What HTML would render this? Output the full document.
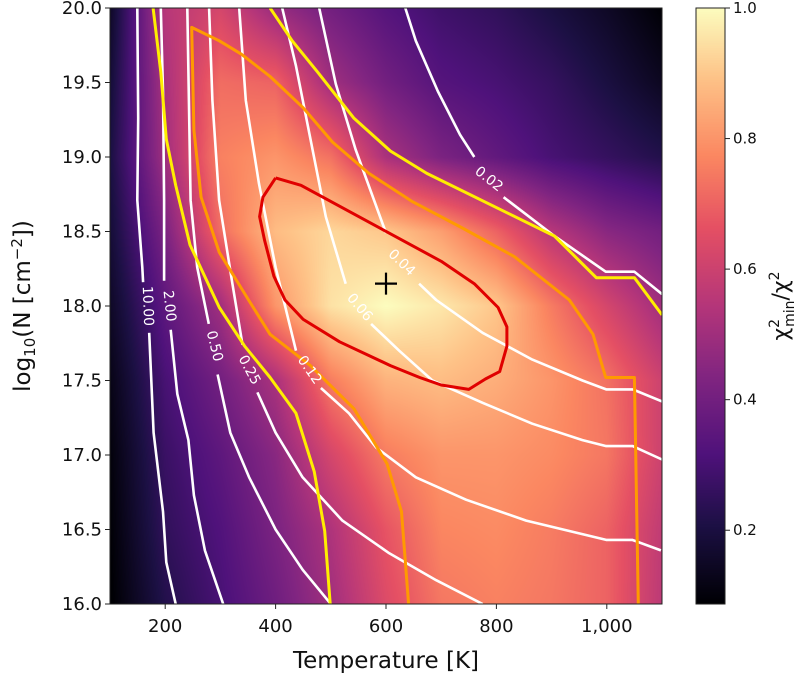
<!DOCTYPE html>
<html><head><meta charset="utf-8">
<style>
body{margin:0;background:#fff;width:798px;height:684px;overflow:hidden;font-family:"DejaVu Sans","Liberation Sans",sans-serif;}
#wrap{position:relative;width:798px;height:684px;}
canvas{position:absolute;}
svg{position:absolute;left:0;top:0;}
</style></head>
<body>
<div id="wrap">
<canvas id="heat" width="552" height="596" style="left:110px;top:8px"></canvas>
<canvas id="cbar" width="29" height="596" style="left:696px;top:8px"></canvas>
<svg id="svg" width="798" height="684"></svg>
</div>
<script>
// ---- data ----
const tempGrid=[100,200,300,400,500,600,700,800,900,1000,1100];
const logNGrid=[16,16.5,17,17.5,18,18.5,19,19.5,20];
const row160=[0.08,0.22,0.30,0.39,0.50,0.64,0.74,0.76,0.74,0.70,0.56];
const row165=[0.09,0.25,0.32,0.42,0.53,0.67,0.77,0.78,0.75,0.70,0.57];
const row170=[0.10,0.27,0.35,0.45,0.62,0.75,0.80,0.80,0.78,0.74,0.60];
const row175=[0.12,0.30,0.40,0.52,0.75,0.86,0.88,0.85,0.80,0.73,0.60];
const row180=[0.15,0.35,0.50,0.80,0.95,1.00,0.96,0.90,0.75,0.62,0.50];
const row185=[0.18,0.42,0.72,0.88,0.93,0.90,0.82,0.70,0.55,0.45,0.40];
const row190=[0.20,0.50,0.76,0.80,0.73,0.52,0.42,0.36,0.30,0.26,0.22];
const row195=[0.18,0.52,0.72,0.70,0.50,0.40,0.33,0.30,0.26,0.20,0.14];
const row200=[0.15,0.55,0.62,0.48,0.40,0.33,0.28,0.25,0.20,0.15,0.09];
const ratioRows=[row160,row165,row170,row175,row180,row185,row190,row195,row200];
const xTicks=[200,400,600,800,1000];
const xTickLabels=["200","400","600","800","1,000"];
const yTicks=[16,16.5,17,17.5,18,18.5,19,19.5,20];
const yTickLabels=["16.0","16.5","17.0","17.5","18.0","18.5","19.0","19.5","20.0"];
const cbTicks=[0.2,0.4,0.6,0.8,1.0];
const cbTickLabels=["0.2","0.4","0.6","0.8","1.0"];
const bestFit=[600,18.15];
const redLine=[[400,18.86],[446,18.81],[700,18.30],[760,18.15],[803,17.99],[819,17.86],[819,17.73],[806,17.56],[780,17.51],[750,17.44],[700,17.47],[661,17.52],[608,17.60],[516,17.76],[450,17.91],[417,18.04],[397,18.20],[380,18.44],[371,18.60],[377,18.73],[400,18.86]];
const orangeLine=[[641,16.0],[628,16.62],[602,16.94],[542,17.31],[463,17.60],[390,17.81],[351,18.04],[298,18.36],[265,18.73],[252,19.18],[248,19.87],[298,19.78],[338,19.69],[390,19.54],[450,19.33],[503,19.10],[569,18.89],[648,18.70],[740,18.52],[833,18.33],[932,18.04],[975,17.81],[998,17.52],[1050,17.52],[1057,16.0]];
const yellowLeft=[[178,20.0],[192,19.57],[202,19.12],[219,18.81],[245,18.41],[298,17.99],[344,17.73],[390,17.52],[437,17.28],[470,16.89],[489,16.49],[499,16.0]];
const yellowRight=[[390,20.0],[430,19.78],[476,19.57],[542,19.26],[608,19.04],[674,18.89],[806,18.65],[905,18.47],[981,18.19],[1050,18.19],[1100,17.94]];
const w1000a=[[149.5,20],[151,19.26],[149.5,18.71],[158.6,18.26],[160,18.16]];
const w1000b=[[171,17.82],[179,17.15],[196,16.62],[202,16.28],[219,16.0]];
const w200a=[[192,20],[196,19.44],[198,18.71],[198,18.17]];
const w200b=[[210,17.84],[222,17.41],[242,17.10],[252,16.73],[272,16.36],[305,16.0]];
const w050a=[[240,20],[243,19.38],[246,18.71],[258,18.26],[279,17.88]];
const w050b=[[295,17.54],[318,17.15],[352,16.85],[400,16.50],[449,16.23],[500,16.0]];
const w025a=[[279.5,20],[285.5,19.38],[297.6,18.71],[321.8,18.15],[340,17.74]];
const w025b=[[367,17.42],[400,17.15],[449,16.85],[521,16.56],[606,16.34],[691,16.16],[775,16.0]];
const w012a=[[334,20],[346,19.38],[370,18.82],[400,18.26],[437,17.70]];
const w012b=[[482,17.45],[533,17.28],[582,17.05],[654,16.85],[745,16.70],[854,16.56],[999,16.43],[1046,16.43],[1098,16.36]];
const w006a=[[412,20],[437,19.61],[461,19.16],[491,18.60],[527,18.15]];
const w006b=[[573,17.88],[624,17.70],[684,17.50],[775,17.35],[865,17.21],[956,17.10],[999,17.06],[1047,17.06],[1100,16.97]];
const w004a=[[479,20],[509,19.49],[545,19.05],[600,18.49]];
const w004b=[[660,18.15],[691,18.04],[775,17.82],[865,17.64],[956,17.50],[999,17.44],[1047,17.44],[1100,17.36]];
const w002a=[[635,20],[654,19.78],[694,19.44],[734,19.15],[760,19.0]];
const w002b=[[813,18.73],[905,18.47],[998,18.23],[1050,18.23],[1100,18.08]];
const whiteLabels=[["10.00",168,18.0,88],["2.00",207,18.0,84],["0.50",289,17.73,76],["0.25",352,17.57,62],["0.12",461,17.57,55],["0.06",552,17.99,50],["0.04",628,18.29,44],["0.02",786,18.85,38]];

// ---- scales ----
const PL=110,PR=662,PT=8,PB=604;
const xS=t=>PL+(t-100)/1000*(PR-PL);
const yS=n=>PB-(n-16)/4*(PB-PT);
const VMIN=0.087,VMAX=1.0;
const magma=[[0,[0,0,4]],[0.13,[28,16,68]],[0.25,[79,18,123]],[0.38,[129,37,129]],[0.5,[181,54,122]],[0.63,[229,80,100]],[0.75,[251,135,97]],[0.88,[254,194,135]],[1,[252,253,191]]];
function cmap(v){let t=(v-VMIN)/(VMAX-VMIN);t=Math.max(0,Math.min(1,t));
 for(let i=1;i<magma.length;i++){if(t<=magma[i][0]){const a=magma[i-1],b=magma[i],f=(t-a[0])/(b[0]-a[0]);return [0,1,2].map(k=>a[1][k]+(b[1][k]-a[1][k])*f);}}return magma[magma.length-1][1];}
function sample(T,N){
 let fx=(T-tempGrid[0])/(tempGrid[1]-tempGrid[0]),fy=(N-logNGrid[0])/(logNGrid[1]-logNGrid[0]);
 fx=Math.max(0,Math.min(tempGrid.length-1.0001,fx));fy=Math.max(0,Math.min(logNGrid.length-1.0001,fy));
 const i=Math.floor(fx),j=Math.floor(fy),u=fx-i,w=fy-j;
 const a=ratioRows[j][i],b=ratioRows[j][i+1],c=ratioRows[j+1][i],d=ratioRows[j+1][i+1];
 return a*(1-u)*(1-w)+b*u*(1-w)+c*(1-u)*w+d*u*w;}
(function(){const cv=document.getElementById('heat'),ctx=cv.getContext('2d');const W=cv.width,H=cv.height;const img=ctx.createImageData(W,H);
 for(let y=0;y<H;y++){const N=20-(y+0.5)/H*4;for(let x=0;x<W;x++){const T=100+(x+0.5)/W*1000;const c=cmap(sample(T,N));const k=(y*W+x)*4;img.data[k]=c[0];img.data[k+1]=c[1];img.data[k+2]=c[2];img.data[k+3]=255;}}
 ctx.putImageData(img,0,0);})();
(function(){const cv=document.getElementById('cbar'),ctx=cv.getContext('2d');const H=cv.height;
 for(let y=0;y<H;y++){const v=VMAX-(y+0.5)/H*(VMAX-VMIN);const c=cmap(v);ctx.fillStyle=`rgb(${c[0]|0},${c[1]|0},${c[2]|0})`;ctx.fillRect(0,y,cv.width,1);}})();

const svg=document.getElementById('svg');const NS='http://www.w3.org/2000/svg';
function mk(tag,attrs,parent){const e=document.createElementNS(NS,tag);for(const k in attrs)e.setAttribute(k,attrs[k]);(parent||svg).appendChild(e);return e;}
function line(pts,color,w,name){const e=mk('polyline',{points:pts.map(p=>xS(p[0]).toFixed(1)+','+yS(p[1]).toFixed(1)).join(' '),fill:'none',stroke:color,'stroke-width':w,'stroke-linejoin':'round'});
 
 return e;}
const clip=mk('clipPath',{id:'pc'});mk('rect',{x:PL,y:PT,width:PR-PL,height:PB-PT},clip);
const g=mk('g',{'clip-path':'url(#pc)'});
function cl(pts,color,w,name){const e=line(pts,color,w,name);g.appendChild(e);}
[[w1000a,w1000b,'10.00'],[w200a,w200b,'2.00'],[w050a,w050b,'0.50'],[w025a,w025b,'0.25'],[w012a,w012b,'0.12'],[w006a,w006b,'0.06'],[w004a,w004b,'0.04'],[w002a,w002b,'0.02']].forEach(s=>{cl(s[0],'#fff',2.6,'contour-'+s[2]);cl(s[1],'#fff',2.6,'contour-'+s[2]);});
cl(yellowLeft,'#ffee00',3,'contour-yellow-left');
cl(yellowRight,'#ffee00',3,'contour-yellow-right');
cl(orangeLine,'#ff9a00',3,'contour-orange');
cl(redLine,'#e00000',3,'contour-red');
whiteLabels.forEach(l=>{const t=mk('text',{x:0,y:0,transform:`translate(${xS(l[1]).toFixed(1)},${yS(l[2]).toFixed(1)}) rotate(${l[3]})`,fill:'#fff','font-size':14,'text-anchor':'middle','dominant-baseline':'central'},g);t.textContent=l[0];
 
 });
const bx=xS(bestFit[0]),by=yS(bestFit[1]);
const mkr=mk('path',{d:`M${bx-11},${by}H${bx+11}M${bx},${by-11}V${by+11}`,stroke:'#000','stroke-width':2.2});


mk('rect',{x:PL,y:PT,width:PR-PL,height:PB-PT,fill:'none',stroke:'#222','stroke-width':1});
mk('rect',{x:696,y:PT,width:29,height:PB-PT,fill:'none',stroke:'#222','stroke-width':1});
xTicks.forEach((t,i)=>{const x=xS(t);mk('line',{x1:x,x2:x,y1:PB,y2:PB+5,stroke:'#222'});const e=mk('text',{x:x,y:PB+28,'font-size':18,'text-anchor':'middle',fill:'#111'});e.textContent=xTickLabels[i];
 
 });
yTicks.forEach((t,i)=>{const y=yS(t);mk('line',{x1:PL-5,x2:PL,y1:y,y2:y,stroke:'#222'});const e=mk('text',{x:PL-8,y:y+6,'font-size':18,'text-anchor':'end',fill:'#111'});e.textContent=yTickLabels[i];
 
 });
cbTicks.forEach((t,i)=>{const y=PB-(t-VMIN)/(VMAX-VMIN)*(PB-PT);mk('line',{x1:725,x2:730,y1:y,y2:y,stroke:'#222'});const e=mk('text',{x:733,y:y+5,'font-size':15,fill:'#111'});e.textContent=cbTickLabels[i];
 
 });
</script>
<svg width="798" height="684" style="position:absolute;left:0;top:0;pointer-events:none">
<text x="386" y="668" font-size="23" text-anchor="middle" fill="#111">Temperature [K]</text>
<text transform="translate(30,306) rotate(-90)" font-size="23" text-anchor="middle" fill="#111">log<tspan font-size="15" dy="5">10</tspan><tspan dy="-5">(N [cm</tspan><tspan font-size="15" dy="-8">−2</tspan><tspan dy="8">])</tspan></text>
<text transform="translate(788,306) rotate(-90)" font-size="22" text-anchor="middle" fill="#111">χ<tspan font-size="14" dy="-9">2</tspan><tspan font-size="14" dx="-8" dy="15">min</tspan><tspan dy="-6">/χ</tspan><tspan font-size="14" dy="-9">2</tspan></text>
</svg>
</body></html>
